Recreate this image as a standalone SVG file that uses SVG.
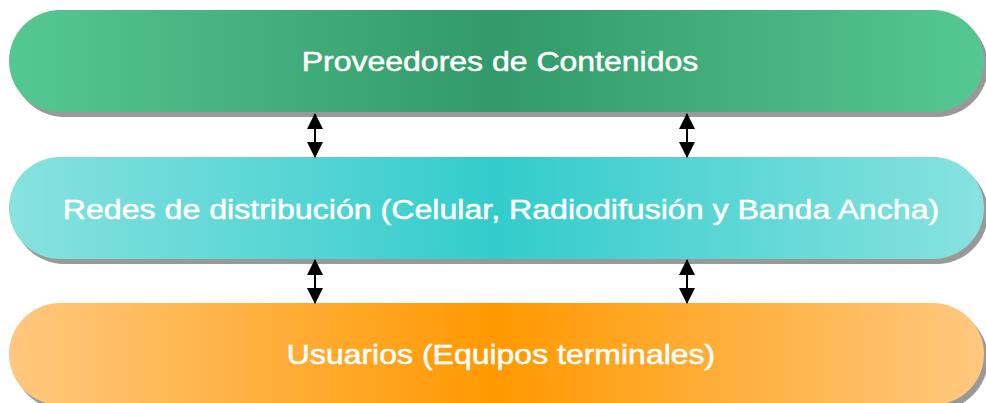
<svg xmlns="http://www.w3.org/2000/svg" width="986" height="403" viewBox="0 0 986 403">
<defs>
<linearGradient id="gGreen" x1="0" y1="0" x2="1" y2="0">
<stop offset="0" stop-color="#55C891"/>
<stop offset="0.5" stop-color="#33996A"/>
<stop offset="1" stop-color="#55C891"/>
</linearGradient>
<linearGradient id="gCyan" x1="0" y1="0" x2="1" y2="0">
<stop offset="0" stop-color="#88E2E0"/>
<stop offset="0.5" stop-color="#33CCCC"/>
<stop offset="1" stop-color="#88E2E0"/>
</linearGradient>
<linearGradient id="gOrange" x1="0" y1="0" x2="1" y2="0">
<stop offset="0" stop-color="#FFC880"/>
<stop offset="0.5" stop-color="#FF9900"/>
<stop offset="1" stop-color="#FFC880"/>
</linearGradient>
<marker id="ah" viewBox="0 0 16 16" refX="15" refY="8" markerWidth="16" markerHeight="16" markerUnits="userSpaceOnUse" orient="auto-start-reverse">
<path d="M0,0 L16,8 L0,16 Z" fill="#000"/>
</marker>
</defs>
<style>
.shadow{fill:#999999}
.lbl{font-family:"Liberation Sans",Arial,sans-serif;font-size:27px;fill:#ffffff;stroke:#ffffff;stroke-width:0.5;text-anchor:middle}
.conn{stroke:#000;stroke-width:2;fill:none}
</style>
<g id="node-proveedores">
<rect class="shadow" x="13" y="15" width="975" height="102" rx="51" ry="51"/>
<rect x="9" y="10" width="975" height="102" rx="51" ry="51" fill="url(#gGreen)"/>
<text class="lbl" transform="translate(500,71) scale(1.185,1)" x="0" y="0">Proveedores de Contenidos</text>
</g>
<g id="node-redes">
<rect class="shadow" x="13" y="162" width="975" height="102" rx="51" ry="51"/>
<rect x="9" y="157" width="975" height="102" rx="51" ry="51" fill="url(#gCyan)"/>
<text class="lbl" transform="translate(501,219) scale(1.19,1)" x="0" y="0">Redes de distribución (Celular, Radiodifusión y Banda Ancha)</text>
</g>
<g id="node-usuarios">
<rect class="shadow" x="13" y="308" width="975" height="102" rx="51" ry="51"/>
<rect x="9" y="303" width="975" height="102" rx="51" ry="51" fill="url(#gOrange)"/>
<text class="lbl" transform="translate(501,364) scale(1.185,1)" x="0" y="0">Usuarios (Equipos terminales)</text>
</g>
<g id="connectors">
<line class="conn" x1="315" y1="114" x2="315" y2="157" marker-start="url(#ah)" marker-end="url(#ah)"/>
<line class="conn" x1="687" y1="114" x2="687" y2="157" marker-start="url(#ah)" marker-end="url(#ah)"/>
<line class="conn" x1="315" y1="260" x2="315" y2="303" marker-start="url(#ah)" marker-end="url(#ah)"/>
<line class="conn" x1="687" y1="260" x2="687" y2="303" marker-start="url(#ah)" marker-end="url(#ah)"/>
</g>
</svg>
